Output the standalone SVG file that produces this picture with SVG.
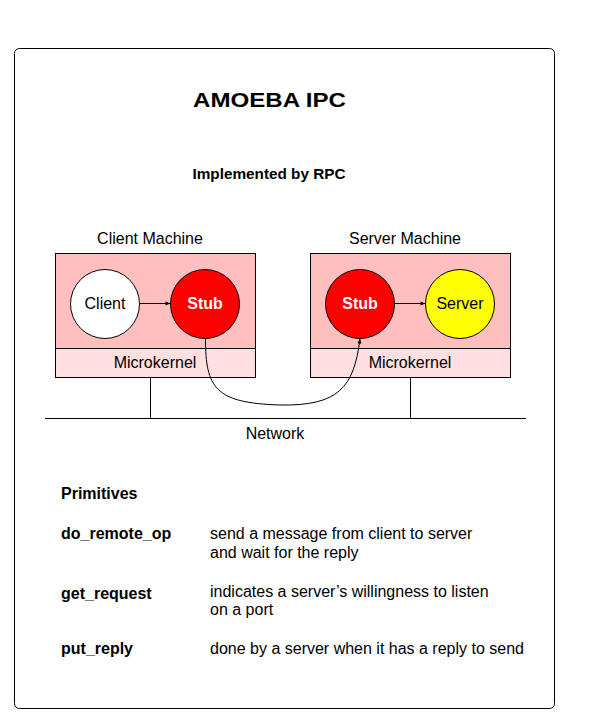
<svg xmlns="http://www.w3.org/2000/svg" width="595" height="723" viewBox="0 0 595 723">
<style>
text{font-family:"Liberation Sans",Arial,sans-serif;fill:#000}
.t16{font-size:16px}
.b{font-weight:bold}
.mid{text-anchor:middle}
.ln{stroke:#000;stroke-width:1;fill:none}
.top{fill:#ffbfbf;stroke:#000;stroke-width:1}
.bot{fill:#ffdfdf;stroke:#000;stroke-width:1}
.circ{stroke:#000;stroke-width:1}
</style>
<defs>
<marker id="ah" viewBox="0 0 10 10" refX="10" refY="5" markerWidth="7" markerHeight="5" markerUnits="userSpaceOnUse" orient="auto">
<path d="M0,1 L10,5 L0,9 z" fill="#000"/>
</marker>
</defs>
<rect x="14.5" y="48.5" width="540" height="660" rx="5" ry="5" fill="#fff" stroke="#000" stroke-width="1"/>
<text x="269.5" y="107" class="b mid" font-size="20" textLength="153" lengthAdjust="spacingAndGlyphs">AMOEBA IPC</text>
<text x="269" y="179" class="b mid" font-size="15.3">Implemented by RPC</text>

<g id="client-machine">
<text x="150" y="244" class="t16 mid">Client Machine</text>
<rect x="55.5" y="253.5" width="200" height="95" class="top"/>
<rect x="55.5" y="348.5" width="200" height="29" class="bot"/>
<text x="155" y="368" class="t16 mid">Microkernel</text>
</g>
<g id="client">
<circle cx="105" cy="304" r="34.5" fill="#fff" class="circ"/>
<text x="105" y="309" class="t16 mid">Client</text>
</g>
<g id="client-stub">
<circle cx="205" cy="304" r="34.5" fill="#ff0000" class="circ"/>
<text x="205" y="309" class="t16 mid b" style="fill:#fff">Stub</text>
</g>

<g id="server-machine">
<text x="405" y="244" class="t16 mid">Server Machine</text>
<rect x="310.5" y="253.5" width="200" height="95" class="top"/>
<rect x="310.5" y="348.5" width="200" height="29" class="bot"/>
<text x="410" y="368" class="t16 mid">Microkernel</text>
</g>
<g id="server-stub">
<circle cx="360" cy="304" r="34.5" fill="#ff0000" class="circ"/>
<text x="360" y="309" class="t16 mid b" style="fill:#fff">Stub</text>
</g>
<g id="server">
<circle cx="460" cy="304" r="34.5" fill="#ffff00" class="circ"/>
<text x="460" y="309" class="t16 mid">Server</text>
</g>

<g id="network">
<line x1="45" y1="418.5" x2="526" y2="418.5" class="ln"/>
<text x="275" y="439" class="t16 mid">Network</text>
</g>

<g id="connectors">
<line x1="139.5" y1="303.5" x2="170.5" y2="303.5" class="ln" marker-end="url(#ah)"/>
<line x1="394.5" y1="303.5" x2="425.5" y2="303.5" class="ln" marker-end="url(#ah)"/>
<line x1="150.5" y1="378" x2="150.5" y2="418" class="ln"/>
<line x1="410.5" y1="378" x2="410.5" y2="418" class="ln"/>
<path d="M205.5,338.5 C205.5,388 215,403 280,405 C338,406 354,388 360,338.5" class="ln" marker-end="url(#ah)"/>
</g>

<g id="primitives">
<text x="61" y="499" class="t16 b">Primitives</text>
<text x="61" y="539" class="t16 b">do_remote_op</text>
<text x="210" y="539" class="t16">send a message from client to server</text>
<text x="210" y="558" class="t16">and wait for the reply</text>
<text x="61" y="599" class="t16 b">get_request</text>
<text x="210" y="597" class="t16">indicates a server’s willingness to listen</text>
<text x="210" y="615" class="t16">on a port</text>
<text x="61" y="654" class="t16 b">put_reply</text>
<text x="210" y="654" class="t16">done by a server when it has a reply to send</text>
</g>
</svg>
